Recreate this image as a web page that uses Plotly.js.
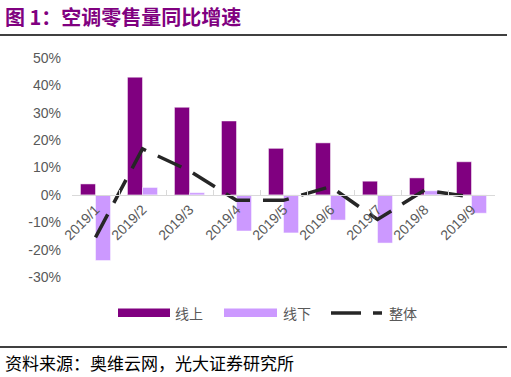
<!DOCTYPE html>
<html><head><meta charset="utf-8">
<script src="https://cdn.plot.ly/plotly-3.0.1.min.js"></script>
<style>html,body{margin:0;padding:0;background:#fff}#chart{width:511px;height:377px}</style>
</head><body><div id="chart"></div>
<script>
const categories = ["2019/1","2019/2","2019/3","2019/4","2019/5","2019/6","2019/7","2019/8","2019/9"];
const online  = [0.04, 0.43, 0.32, 0.27, 0.17, 0.19, 0.05, 0.062, 0.121];
const offline = [-0.24, 0.027, 0.008, -0.132, -0.139, -0.092, -0.176, 0.015, -0.067];
const overall = [-0.155, 0.168, 0.088, -0.02, -0.02, 0.03, -0.09, 0.017, -0.008];
const seriesNames = ["线上","线下","整体"];
const yTickVals = [-0.3,-0.2,-0.1,0,0.1,0.2,0.3,0.4,0.5];
const yTickText = ["-30%","-20%","-10%","0%","10%","20%","30%","40%","50%"];

const font = "Liberation Sans, Arial, sans-serif";
const cjk = "Noto Sans CJK SC, sans-serif";
const yMin = -0.3, yMax = 0.5;
const colors = ["#800080", "#CC99FF", "#262626"];

const traces = [
  {type:"bar", name:seriesNames[0], x:categories, y:online, marker:{color:colors[0], line:{color:"#ffffff", width:0.5}}},
  {type:"bar", name:seriesNames[1], x:categories, y:offline, marker:{color:colors[1], line:{color:"#ffffff", width:0.5}}},
  {type:"scatter", mode:"lines", name:seriesNames[2], x:categories, y:overall, line:{color:colors[2], width:3.5, dash:"26px,13px"}}
];

// plot area in pixels: left 72, right 495, top 58, bottom 277
const PW = 423, PH = 219, L = 72, T = 58;
const px = v => (v - L) / PW;
const py = v => 1 - (v - T) / PH;

const layout = {
  width:511, height:377,
  margin:{l:72, r:16, t:58, b:100},
  paper_bgcolor:"#fff", plot_bgcolor:"#fff",
  barmode:"group", bargap:0.36, bargroupgap:0,
  showlegend:false,
  xaxis:{type:"category", anchor:"free", position:(0 - yMin)/(yMax - yMin),
         showline:true, linecolor:"#d9d9d9", linewidth:1,
         ticks:"inside", tickson:"boundaries", ticklen:5, tickcolor:"#d9d9d9",
         tickangle:-45, tickfont:{family:font, size:14, color:"#595959"},
         showgrid:false, zeroline:false, fixedrange:true},
  yaxis:{range:[yMin, yMax], tickvals:yTickVals, ticktext:yTickText,
         tickfont:{family:font, size:14, color:"#595959"}, ticklabelstandoff:10,
         showgrid:false, zeroline:false, showline:false, ticks:"", fixedrange:true, domain:[0,1]},
  annotations:[
    {xref:"paper", yref:"paper", x:px(3), y:py(16), xanchor:"left", yanchor:"middle",
     text:"<b>图 1：空调零售量同比增速</b>", showarrow:false,
     font:{family:cjk, size:20, color:"#800080"}},
    {xref:"paper", yref:"paper", x:px(3), y:py(362), xanchor:"left", yanchor:"middle",
     text:"资料来源：奥维云网，光大证券研究所", showarrow:false,
     font:{family:cjk, size:17, color:"#000"}},
    {xref:"paper", yref:"paper", x:px(173), y:py(313), xanchor:"left", yanchor:"middle",
     text:seriesNames[0], showarrow:false, font:{family:cjk, size:14, color:"#595959"}},
    {xref:"paper", yref:"paper", x:px(281), y:py(313), xanchor:"left", yanchor:"middle",
     text:seriesNames[1], showarrow:false, font:{family:cjk, size:14, color:"#595959"}},
    {xref:"paper", yref:"paper", x:px(387), y:py(313), xanchor:"left", yanchor:"middle",
     text:seriesNames[2], showarrow:false, font:{family:cjk, size:14, color:"#595959"}}
  ],
  shapes:[
    {type:"line", xref:"paper", yref:"paper", x0:px(0), x1:px(507), y0:py(35), y1:py(35), line:{color:"#000", width:1.5}},
    {type:"line", xref:"paper", yref:"paper", x0:px(0), x1:px(507), y0:py(347), y1:py(347), line:{color:"#000", width:1.5}},
    {type:"rect", xref:"paper", yref:"paper", x0:px(118), x1:px(170), y0:py(308.5), y1:py(317), fillcolor:colors[0], line:{width:0}},
    {type:"rect", xref:"paper", yref:"paper", x0:px(224), x1:px(277), y0:py(308.5), y1:py(317), fillcolor:colors[1], line:{width:0}},
    {type:"line", xref:"paper", yref:"paper", x0:px(331), x1:px(361), y0:py(313), y1:py(313), line:{color:colors[2], width:3.5}},
    {type:"line", xref:"paper", yref:"paper", x0:px(373), x1:px(382), y0:py(313), y1:py(313), line:{color:colors[2], width:3.5}}
  ]
};
Plotly.newPlot("chart", traces, layout, {displayModeBar:false, staticPlot:true});
</script></body></html>
